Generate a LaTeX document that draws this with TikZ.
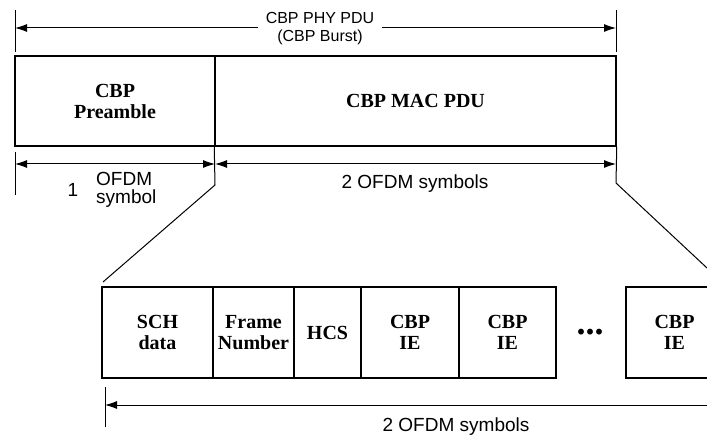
\documentclass[tikz,border=0pt]{standalone}
\usepackage{fontspec}
\setmainfont{Liberation Serif}
\newfontfamily\sansf{Liberation Sans}
\usetikzlibrary{arrows.meta}
\begin{document}
\begin{tikzpicture}[x=1pt,y=-1pt,
  box/.style={draw,line width=1.5pt,rectangle,inner sep=0pt,
    font=\fontsize{20}{21}\selectfont\bfseries,align=center},
  dimarr/.style={line width=1pt,{Latex[length=12pt,width=8pt]}-{Latex[length=12pt,width=8pt]}},
  leftarr/.style={line width=1pt,{Latex[length=12pt,width=8pt]}-},
  tickline/.style={line width=1pt},
  zoomline/.style={line width=1pt},
  lab/.style={font=\sansf\fontsize{19}{18}\selectfont,inner sep=0pt,align=left}]
\clip (0,0) rectangle (707,438);
\fill[white] (0,0) rectangle (707,438);

% ---- top row ----
\node[box,minimum width=200pt,minimum height=90pt] (pre) at (115,101) {CBP\\Preamble};
\node[box,minimum width=401pt,minimum height=90pt] (mac) at (415.5,101) {CBP MAC PDU};

% top dimension
\coordinate (t1a) at (15,10);  \coordinate (t1b) at (15,52);
\coordinate (t2a) at (616,10); \coordinate (t2b) at (616,52);
\coordinate (ta1) at (15,28);  \coordinate (ta2) at (616,28);
\draw[tickline] (t1a) -- (t1b);
\draw[tickline] (t2a) -- (t2b);
\draw[dimarr] (ta1) -- (ta2);
\node[fill=white,inner xsep=8pt,inner ysep=0pt,align=center,
  font=\sansf\fontsize{16}{18}\selectfont] (phy) at (320,29) {CBP PHY PDU\\(CBP Burst)};

% middle dimension
\coordinate (m1a) at (15,152); \coordinate (m1b) at (15,195);
\coordinate (ma1) at (15,164); \coordinate (ma2) at (215,164); \coordinate (ma3) at (616,164);
\draw[tickline] (m1a) -- (m1b);
\draw[dimarr] (ma1) -- (ma2);
\draw[dimarr] (ma2) -- (ma3);
\node[lab] (one) at (73,190) {1};
\node[lab,anchor=west] (ofdm1) at (96,190) {OFDM\\symbol};
\node[lab] (ofdm2) at (415,184) {2 OFDM symbols};

% zoom lines
\coordinate (zl1) at (215,185); \coordinate (zl2) at (103,282);
\coordinate (zr1) at (616,183); \coordinate (zr2) at (722,282);
\draw[zoomline] (mac.south west) -- (zl1) -- (zl2);
\draw[zoomline] (mac.south east) -- (zr1) -- (zr2);

% ---- lower row ----
\node[box,minimum width=111pt,minimum height=91pt] (sch) at (157.5,332.5) {SCH\\data};
\node[box,minimum width=81pt,minimum height=91pt] (fn) at (253.5,332.5) {Frame\\Number};
\node[box,minimum width=67pt,minimum height=91pt] (hcs) at (327.5,332.5) {HCS};
\node[box,minimum width=98pt,minimum height=91pt] (ie1) at (410,332.5) {CBP\\IE};
\node[box,minimum width=97pt,minimum height=91pt] (ie2) at (507.5,332.5) {CBP\\IE};
\node[anchor=base,inner sep=0pt,font=\fontsize{36}{36}\selectfont\bfseries] (dots) at (590,335) {...};
\node[box,minimum width=97pt,minimum height=91pt] (ie3) at (674.5,332.5) {CBP\\IE};

% bottom dimension
\coordinate (b1a) at (105,387); \coordinate (b1b) at (105,427);
\coordinate (ba1) at (105,405); \coordinate (ba2) at (730,405);
\draw[tickline] (b1a) -- (b1b);
\draw[leftarr] (ba1) -- (ba2);
\node[lab] (ofdm3) at (456,427) {2 OFDM symbols};
\end{tikzpicture}
\end{document}
